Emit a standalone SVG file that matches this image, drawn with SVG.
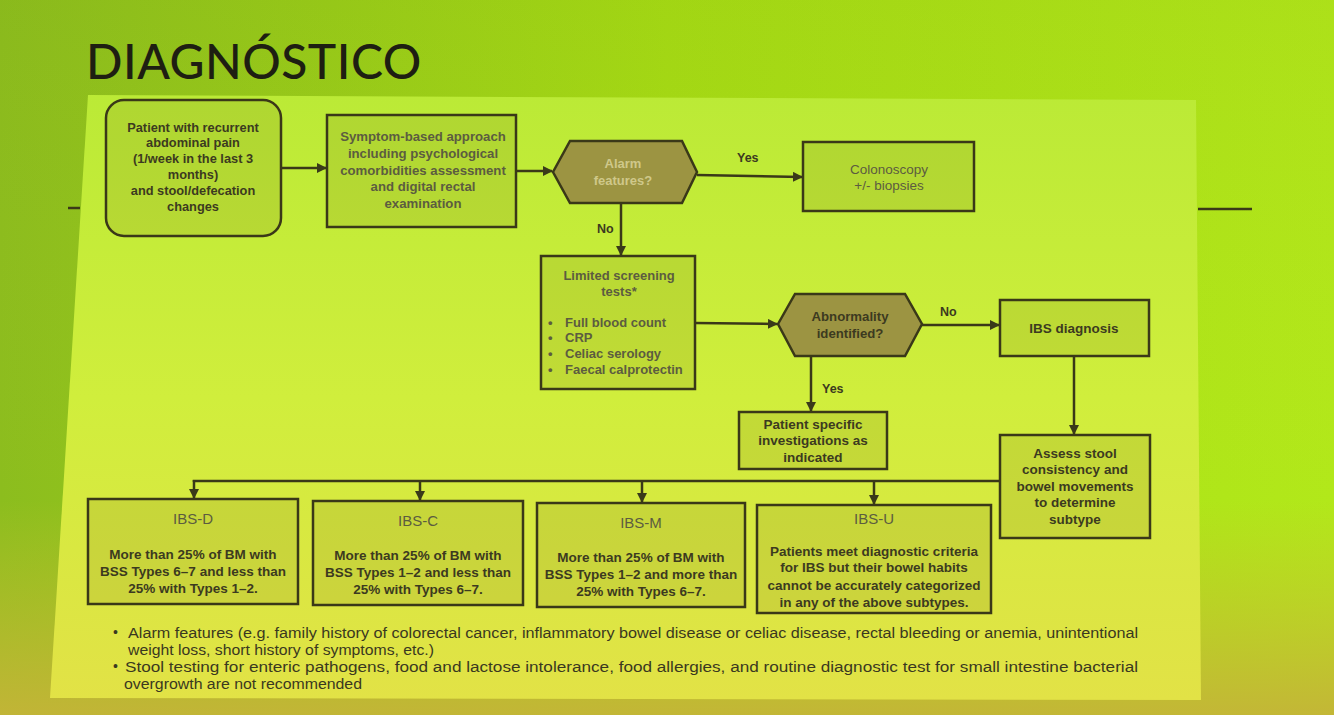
<svg xmlns="http://www.w3.org/2000/svg" width="1334" height="715" viewBox="0 0 1334 715">
<defs>
<linearGradient id="bg" x1="0" y1="0" x2="1" y2="0">
<stop offset="0" stop-color="#8cbd1e"/>
<stop offset="0.5" stop-color="#a6dc14"/>
<stop offset="1" stop-color="#b2e81a"/>
</linearGradient>
<linearGradient id="bgv" x1="0" y1="0" x2="0" y2="1">
<stop offset="0" stop-color="#7a9a10" stop-opacity="0.1"/>
<stop offset="0.7" stop-color="#c8c030" stop-opacity="0"/>
<stop offset="1" stop-color="#c4b438" stop-opacity="0.95"/>
</linearGradient>
<linearGradient id="panel" x1="0" y1="0" x2="0" y2="1">
<stop offset="0" stop-color="#bbea36"/>
<stop offset="0.5" stop-color="#d0ee3c"/>
<stop offset="1" stop-color="#e2e246"/>
</linearGradient>
<marker id="ah" viewBox="0 0 10 10" refX="9" refY="5" markerWidth="4" markerHeight="4" orient="auto" markerUnits="strokeWidth">
<path d="M0,0 L10,5 L0,10 z" fill="#3a3a1a"/>
</marker>
<style>
.box{fill:#5a5010;fill-opacity:0.12;stroke:#3a3818;stroke-width:2.5}
.hex{fill:#9c9442;stroke:#3a3818;stroke-width:2.5}
.ln{fill:none;stroke:#3a3818;stroke-width:2.5}
.ar{fill:none;stroke:#3a3818;stroke-width:2.5;marker-end:url(#ah)}
.t{font-family:"Liberation Sans",Arial,sans-serif;font-size:13.5px;font-weight:bold;fill:#3c3a20;text-anchor:middle}
.g{fill:#5c5c40}
.r{font-weight:normal}
.h{font-size:15px}
.lbl{font-family:"Liberation Sans",Arial,sans-serif;font-size:12.5px;font-weight:bold;fill:#3c3a20}
.foot{font-family:"Liberation Sans",Arial,sans-serif;font-size:14px;fill:#3a3820}
</style>
</defs>
<rect x="0" y="0" width="1334" height="715" fill="url(#bg)"/>
<rect x="0" y="0" width="1334" height="715" fill="url(#bgv)"/>
<text x="86" y="79" font-family="Lato,'Open Sans',sans-serif" font-size="48" letter-spacing="0.5" fill="#1e1e12" font-weight="500">DIAGNÓSTICO</text>
<line x1="68" y1="208" x2="80" y2="208" stroke="#3a3818" stroke-width="2.5"/>
<line x1="1198" y1="209" x2="1252" y2="209" stroke="#3a3818" stroke-width="2.5"/>
<polygon points="88,95 1196,100 1201,700 50,698" fill="url(#panel)"/>

<g id="connectors">
<line class="ar" x1="281" y1="168" x2="326" y2="168"/>
<line class="ar" x1="516" y1="171" x2="552" y2="171"/>
<line class="ar" x1="697" y1="175" x2="802" y2="177"/>
<line class="ar" x1="621" y1="203" x2="621" y2="255"/>
<line class="ar" x1="695" y1="323" x2="777" y2="324"/>
<line class="ar" x1="922" y1="325" x2="999" y2="325"/>
<line class="ar" x1="811" y1="356" x2="811" y2="411"/>
<line class="ar" x1="1074" y1="356" x2="1074" y2="434"/>
<polyline class="ln" points="1000,481 194,481 194,482"/>
<line class="ar" x1="194" y1="480" x2="194" y2="498"/>
<line class="ar" x1="420" y1="480" x2="420" y2="500"/>
<line class="ar" x1="642" y1="481" x2="642" y2="502"/>
<line class="ar" x1="874" y1="481" x2="874" y2="504"/>
<text class="lbl" x="737" y="162">Yes</text>
<text class="lbl" x="597" y="233">No</text>
<text class="lbl" x="940" y="316">No</text>
<text class="lbl" x="822" y="393">Yes</text>
</g>

<g id="start">
<rect class="box" x="106" y="100" width="175" height="136" rx="18" stroke-width="3" fill-opacity="0.06"/>
<text class="t" x="193" y="132" font-size="12.8" style="font-size:12.8px">Patient with recurrent</text>
<text class="t" x="193" y="147" style="font-size:12.8px">abdominal pain</text>
<text class="t" x="193" y="163" style="font-size:12.8px">(1/week in the last 3</text>
<text class="t" x="193" y="179" style="font-size:12.8px">months)</text>
<text class="t" x="193" y="195" style="font-size:12.8px">and stool/defecation</text>
<text class="t" x="193" y="211" style="font-size:12.8px">changes</text>
</g>

<g id="symptom">
<rect class="box" x="327" y="115" width="189" height="112"/>
<text class="t g" x="423" y="141" style="font-size:13.2px">Symptom-based approach</text>
<text class="t g" x="423" y="158" style="font-size:13.2px">including psychological</text>
<text class="t g" x="423" y="175" style="font-size:13.2px">comorbidities assessment</text>
<text class="t g" x="423" y="191" style="font-size:13.2px">and digital rectal</text>
<text class="t g" x="423" y="208" style="font-size:13.2px">examination</text>
</g>

<g id="alarm">
<polygon class="hex" points="553,172 570,141 682,141 697,172 682,203 570,203"/>
<text class="t" x="623" y="168" style="fill:#cfc88a;font-size:13px">Alarm</text>
<text class="t" x="623" y="185" style="fill:#cfc88a;font-size:13px">features?</text>
</g>

<g id="colonoscopy">
<rect class="box" x="803" y="142" width="171" height="69" fill-opacity="0.03"/>
<text class="t g r" x="889" y="174">Colonoscopy</text>
<text class="t g r" x="889" y="190">+/- biopsies</text>
</g>

<g id="screening">
<rect class="box" x="541" y="256" width="154" height="133"/>
<text class="t g" x="619" y="280" style="font-size:13px">Limited screening</text>
<text class="t g" x="619" y="296" style="font-size:13px">tests*</text>
<g class="t g" style="text-anchor:start;font-size:13px">
<text x="548" y="327">•</text><text x="565" y="327">Full blood count</text>
<text x="548" y="342">•</text><text x="565" y="342">CRP</text>
<text x="548" y="358">•</text><text x="565" y="358">Celiac serology</text>
<text x="548" y="374">•</text><text x="565" y="374">Faecal calprotectin</text>
</g>
</g>

<g id="abnormality">
<polygon class="hex" points="778,324 795,294 905,294 922,324 905,356 795,356"/>
<text class="t" x="850" y="321" style="font-size:13.2px">Abnormality</text>
<text class="t" x="850" y="338" style="font-size:13.2px">identified?</text>
</g>

<g id="ibsdiag">
<rect class="box" x="1000" y="300" width="149" height="56"/>
<text class="t" x="1074" y="333">IBS diagnosis</text>
</g>

<g id="specific">
<rect class="box" x="739" y="412" width="148" height="57"/>
<text class="t" x="813" y="429">Patient specific</text>
<text class="t" x="813" y="445">investigations as</text>
<text class="t" x="813" y="462">indicated</text>
</g>

<g id="assess">
<rect class="box" x="1000" y="435" width="150" height="103"/>
<text class="t" x="1075" y="458">Assess stool</text>
<text class="t" x="1075" y="474">consistency and</text>
<text class="t" x="1075" y="491">bowel movements</text>
<text class="t" x="1075" y="507">to determine</text>
<text class="t" x="1075" y="524">subtype</text>
</g>

<g id="ibsd">
<rect class="box" x="88" y="499" width="210" height="105"/>
<text class="t g r h" x="193" y="524">IBS-D</text>
<text class="t" x="193" y="559">More than 25% of BM with</text>
<text class="t" x="193" y="576">BSS Types 6–7 and less than</text>
<text class="t" x="193" y="593">25% with Types 1–2.</text>
</g>

<g id="ibsc">
<rect class="box" x="313" y="501" width="210" height="104"/>
<text class="t g r h" x="418" y="526">IBS-C</text>
<text class="t" x="418" y="560">More than 25% of BM with</text>
<text class="t" x="418" y="577">BSS Types 1–2 and less than</text>
<text class="t" x="418" y="594">25% with Types 6–7.</text>
</g>

<g id="ibsm">
<rect class="box" x="537" y="503" width="208" height="104"/>
<text class="t g r h" x="641" y="528">IBS-M</text>
<text class="t" x="641" y="562">More than 25% of BM with</text>
<text class="t" x="641" y="579">BSS Types 1–2 and more than</text>
<text class="t" x="641" y="596">25% with Types 6–7.</text>
</g>

<g id="ibsu">
<rect class="box" x="757" y="505" width="234" height="108"/>
<text class="t g r h" x="874" y="524">IBS-U</text>
<text class="t" x="874" y="556">Patients meet diagnostic criteria</text>
<text class="t" x="874" y="572">for IBS but their bowel habits</text>
<text class="t" x="874" y="590">cannot be accurately categorized</text>
<text class="t" x="874" y="607">in any of the above subtypes.</text>
</g>

<g id="footnotes" class="foot">
<text x="113" y="637">•</text>
<text x="128" y="638" textLength="1010" lengthAdjust="spacingAndGlyphs">Alarm features (e.g. family history of colorectal cancer, inflammatory bowel disease or celiac disease, rectal bleeding or anemia, unintentional</text>
<text x="128" y="655" textLength="306" lengthAdjust="spacingAndGlyphs">weight loss, short history of symptoms, etc.)</text>
<text x="113" y="671">•</text>
<text x="125" y="672" textLength="1013" lengthAdjust="spacingAndGlyphs">Stool testing for enteric pathogens, food and lactose intolerance, food allergies, and routine diagnostic test for small intestine bacterial</text>
<text x="124" y="689" textLength="238" lengthAdjust="spacingAndGlyphs">overgrowth are not recommended</text>
</g>
</svg>
